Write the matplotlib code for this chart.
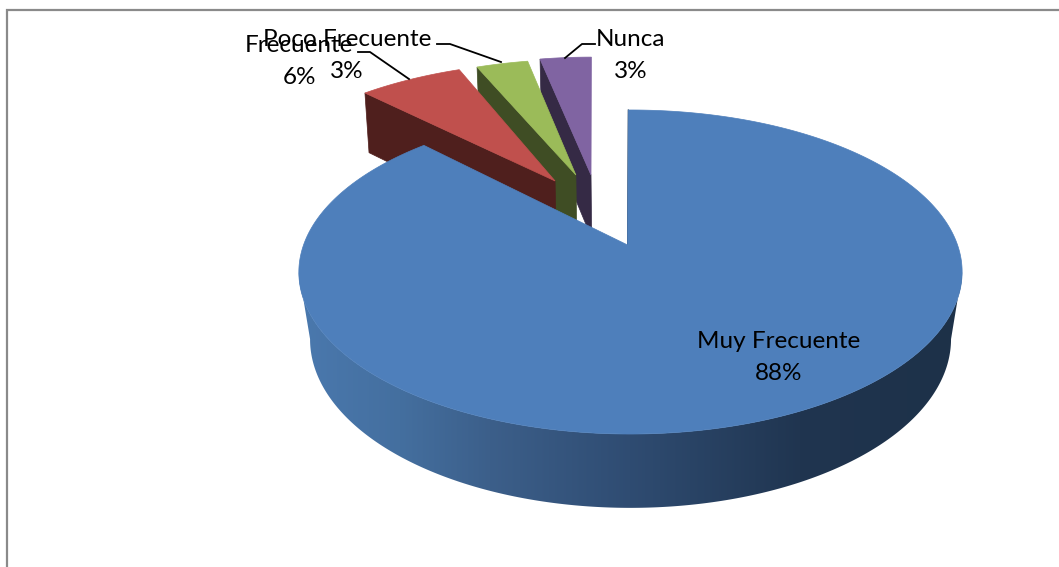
import numpy as np
import matplotlib
matplotlib.use("Agg")
import matplotlib.pyplot as plt
from matplotlib.patches import Polygon
from matplotlib.colors import to_rgb

categories = ["Muy Frecuente", "Frecuente", "Poco Frecuente", "Nunca"]
values = [87.5, 6.25, 3.125, 3.125]
percent_labels = ["88%", "6%", "3%", "3%"]

top_colors = ["#4e7fbb", "#c0504d", "#9bbb59", "#8064a2"]
side_colors = ["#1e3249", "#4f1f1d", "#3f4d24", "#352a45"]
# explosion of each rim and of each tip, in units of the pie radius
offsets = [(-0.006, 0.0), (-0.268, 0.443), (-0.203, 0.468), (-0.157, 0.489)]
tips = [(-0.015, 0.0), (-0.254, 0.436), (-0.187, 0.48), (-0.137, 0.48)]

CX, C = 632.5, 0.1667
R_TOP, A_TOP, B_TOP = 327.0, -116.67, 245.0
R_BOT, A_BOT, B_BOT = 316.0, -112.2, 311.0
R_BOT_SMALL = 322.0
RIM_START_SHIFT = -0.009


def project(u, v, R, A, B):
    w = 1 + C * v
    return CX + R * u / w, (A * v + B) / w


def top_pt(u, v):
    return project(u, v, R_TOP, A_TOP, B_TOP)


def bot_pt(u, v, R=R_BOT):
    return project(u, v, R, A_BOT, B_BOT)


grad_x = [305, 400, 490, 630, 800, 960]
grad_c = [to_rgb(c) for c in ["#4a78ad", "#446f9f", "#3c5f8a", "#2f4c72", "#203550", "#1d3148"]]

fig = plt.figure(figsize=(10.59, 5.67), dpi=100, facecolor="white")
ax = fig.add_axes([0, 0, 1, 1])

# chart frame
ax.plot([6.5, 6.5, 1059], [567, 9.8, 9.8], color="#8a8a8a", lw=1.6, solid_joinstyle="miter", zorder=1)

total = sum(values)
edges = np.cumsum([0] + values) / total * 2 * np.pi

# small slices: back to front, then the big one on top
for i in [3, 2, 1]:
    du, dv = offsets[i]
    tu, tv = tips[i]
    a = np.linspace(edges[i], edges[i + 1], 30)
    us, vs = du + np.sin(a), dv + np.cos(a)
    z = 2 + (3 - i)
    t0 = top_pt(us[0], vs[0])
    b0 = bot_pt(us[0], vs[0], R_BOT_SMALL)
    tc = top_pt(tu, tv)
    bc = bot_pt(tu, tv, R_BOT_SMALL)
    ax.add_patch(Polygon([t0, tc, bc, b0], closed=True, fc=side_colors[i], ec=side_colors[i], lw=0.5, zorder=z))
    poly = [tc] + [top_pt(x, y) for x, y in zip(us, vs)]
    ax.add_patch(Polygon(poly, closed=True, fc=top_colors[i], ec=top_colors[i], lw=0.5, zorder=z + 0.5))

# big slice: smooth side wall as a gradient clipped to its outline
du, dv = offsets[0]
tu, tv = tips[0]
a_wall = np.linspace(np.arccos(-C), 2 * np.pi - np.arccos(-C), 300)
wall = [top_pt(du + np.sin(t), dv + np.cos(t)) for t in a_wall]
wall += [bot_pt(du + np.sin(t), dv + np.cos(t)) for t in a_wall[::-1]]
wall_patch = Polygon(wall, closed=True, fc="none", ec="none", zorder=6)
ax.add_patch(wall_patch)
gx = np.arange(290, 975)
grad = np.stack([np.interp(gx, grad_x, [c[k] for c in grad_c]) for k in range(3)], axis=-1)[None, :, :]
im = ax.imshow(grad, extent=(290, 975, 520, 260), aspect="auto", zorder=6, interpolation="bilinear")
im.set_clip_path(wall_patch)

a = np.linspace(edges[0] + RIM_START_SHIFT, edges[1], 721)
us, vs = du + np.sin(a), dv + np.cos(a)
poly = [top_pt(tu, tv)] + [top_pt(x, y) for x, y in zip(us, vs)]
ax.add_patch(Polygon(poly, closed=True, fc=top_colors[0], ec=top_colors[0], lw=0.5, zorder=7))
ax.plot(*zip(top_pt(tu, tv), top_pt(us[0], vs[0])), color=side_colors[0], lw=0.8, zorder=6.5)

# leader lines
leaders = [
    ([358, 370, 409], [52, 52, 79]),
    ([437, 450, 501], [44, 44, 62]),
    ([595, 582, 565], [44, 44, 58]),
]
for lx, ly in leaders:
    ax.plot(lx, ly, color="black", lw=1.3, zorder=8)

# labels
label_pos = [(779, 342, 374), (299, 46, 78), (347, 40, 71), (631, 40, 71)]
for name, pct, (x, y1, y2) in zip(categories, percent_labels, label_pos):
    ax.text(x, y1, name, ha="center", va="center", fontsize=17.5, family="Lato", color="black", zorder=9)
    ax.text(x, y2, pct, ha="center", va="center", fontsize=17.5, family="Lato", color="black", zorder=9)

ax.set_xlim(0, 1059)
ax.set_ylim(567, 0)
ax.axis("off")

fig.savefig("out.png", dpi=100, facecolor="white")
